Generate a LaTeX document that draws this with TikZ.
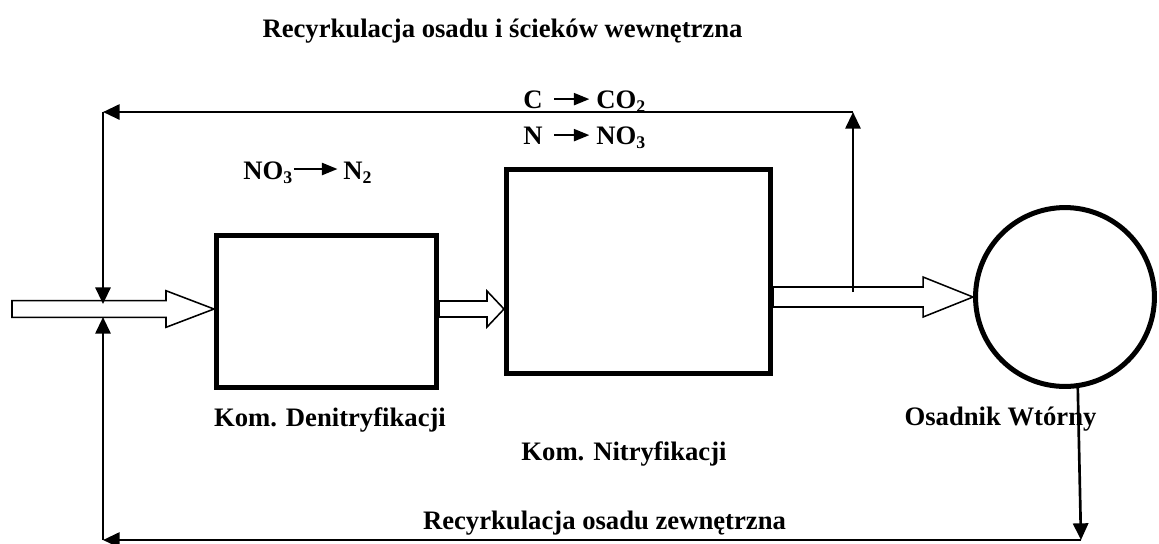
\documentclass[tikz,border=0pt]{standalone}
\usepackage{fontspec}
\setmainfont{Liberation Serif}
\usepackage{tikz}
\usetikzlibrary{arrows.meta,positioning,calc}

\tikzset{
  chamber/.style={draw, line width=2.25pt, inner sep=0pt, outer sep=1.125pt},
  settlerbox/.style={draw, circle, line width=2.25pt, inner sep=0pt, outer sep=1.125pt, minimum size=80.5pt},
  txt/.style={font=\fontsize{12}{14}\selectfont\bfseries, inner sep=0pt},
  recycle/.style={line width=1.2pt, -{Triangle[length=7.5pt,width=6.8pt]}},
  chem/.style={line width=0.8pt, -{Triangle[length=7pt,width=5.5pt]}},
  flow/.style={draw, line width=0.7pt, fill=white},
}

% hollow block arrow: from #1 to #2, shaft half width #3, head length #4
\newcommand{\flowarrow}[4]{%
  \draw[flow] ($(#1)+(0,-#3)$) -- ($(#2)+(-#4,-#3)$) -- ($(#2)+(-#4,-#3-10)$) -- (#2)
    -- ($(#2)+(-#4,#3+10)$) -- ($(#2)+(-#4,#3)$) -- ($(#1)+(0,#3)$) -- cycle;}

\begin{document}
\begin{tikzpicture}[x=0.45pt, y=-0.45pt]
    \useasboundingbox (0,0) rectangle (1159,543);
    % Chambers and settler
    \node[chamber, minimum width=99pt, minimum height=68.4pt] (denit) at (326.5,311.5) {};
    \node[chamber, minimum width=118.8pt, minimum height=91.8pt] (nitr) at (638.5,271.5) {};
    \node[settlerbox] (settler) at (1065,297) {};
    % Main flow
    \coordinate (inlet) at (12,309);
    \coordinate (denitIn) at (denit.west |- inlet);
    \coordinate (denitOut) at (denit.east |- inlet);
    \coordinate (nitrIn) at (nitr.west |- inlet);
    \coordinate (nitrOut) at (nitr.east |- settler.west);
    \flowarrow{inlet}{denitIn}{8.3}{48}
    \flowarrow{denitOut}{nitrIn}{8}{17}
    \flowarrow{nitrOut}{settler.west}{10}{50}
    % Internal recirculation
    \coordinate (split) at (853,292);
    \coordinate (topR) at (853,112);
    \coordinate (topL) at (103,112);
    \coordinate (mixT) at (103,304);
    \draw[recycle] (split) -- (topR);
    \draw[recycle] (topR) -- (topL);
    \draw[recycle] (topL) -- (mixT);
    % External recirculation
    \coordinate (botR) at (1081,540);
    \coordinate (botL) at (103,540);
    \coordinate (mixB) at (103,317);
    \draw[recycle] (settler.-82) -- (botR);
    \draw[recycle] (botR) -- (botL);
    \draw[recycle] (botL) -- (mixB);
    % Labels
    \node[txt, anchor=base] (titleIn) at (502.5,37) {Recyrkulacja osadu i ścieków wewnętrzna};
    \node[txt, anchor=base] (titleEx) at (604.5,529) {Recyrkulacja osadu zewnętrzna};
    \node[txt, anchor=base] (denitLbl) at (330,426) {Kom. Denitryfikacji};
    \node[txt, anchor=base] (nitrLbl) at (624,460) {Kom. Nitryfikacji};
    \node[txt, anchor=base] (settlerLbl) at (1000.5,425) {Osadnik Wtórny};
    % Reactions
    \node[txt, anchor=base west] (no3a) at (243,179) {NO\textsubscript{3}};
    \node[txt, anchor=base west] (n2) at (343,179) {N\textsubscript{2}};
    \draw[chem, shorten >=2.5pt] ([yshift=4.5pt]no3a.base east) -- ([yshift=4.5pt]n2.base west);
    \node[txt, anchor=base west] (c) at (523,108) {C};
    \node[txt, anchor=base west] (co2) at (596,108) {CO\textsubscript{2}};
    \draw[chem, shorten <=5pt, shorten >=3pt] ([yshift=4pt]c.base east) -- ([yshift=4pt]co2.base west);
    \node[txt, anchor=base west] (n) at (523,144) {N};
    \node[txt, anchor=base west] (no3b) at (596,144) {NO\textsubscript{3}};
    \draw[chem, shorten <=5pt, shorten >=3pt] ([yshift=4pt]n.base east) -- ([yshift=4pt]no3b.base west);
\end{tikzpicture}
\end{document}
